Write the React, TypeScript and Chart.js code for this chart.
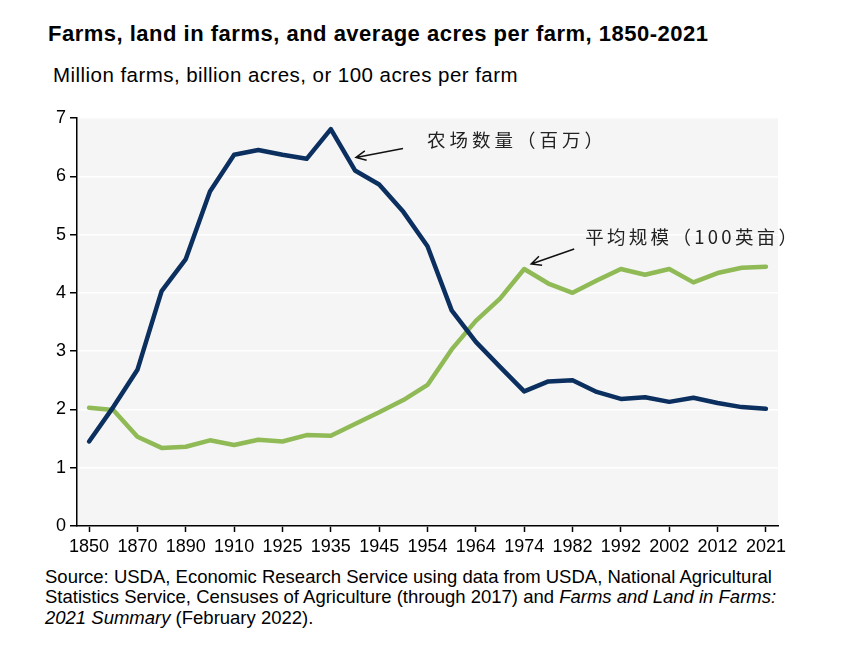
import React, { useEffect, useRef } from "react";
import { Chart, registerables } from "chart.js";

Chart.register(...registerables);

const years = [
  "1850", "1860", "1870", "1880", "1890", "1900", "1910", "1920", "1925", "1930",
  "1935", "1940", "1945", "1950", "1954", "1959", "1964", "1969", "1974", "1978",
  "1982", "1987", "1992", "1997", "2002", "2007", "2012", "2017", "2021",
];

const farmsMillions = [
  1.45, 2.04, 2.68, 4.03, 4.58, 5.74, 6.37, 6.45, 6.37, 6.30,
  6.81, 6.10, 5.86, 5.39, 4.80, 3.70, 3.16, 2.73, 2.31, 2.48,
  2.50, 2.30, 2.18, 2.21, 2.13, 2.20, 2.11, 2.04, 2.01,
];

const avgSize100Acres = [
  2.03, 1.99, 1.53, 1.34, 1.36, 1.47, 1.39, 1.48, 1.45, 1.56,
  1.55, 1.75, 1.95, 2.16, 2.42, 3.03, 3.52, 3.90, 4.41, 4.16,
  4.00, 4.21, 4.41, 4.31, 4.41, 4.18, 4.34, 4.43, 4.45,
];

const labelFarms = "农场数量（百万）";
const labelSize = "平均规模（100英亩）";

const NAVY = "#0b2f5f";
const GREEN = "#8fba55";

function drawArrow(ctx: CanvasRenderingContext2D, x1: number, y1: number, x2: number, y2: number) {
  const ang = Math.atan2(y2 - y1, x2 - x1);
  const len = 11;
  ctx.save();
  ctx.strokeStyle = "#111";
  ctx.lineWidth = 1.5;
  ctx.beginPath();
  ctx.moveTo(x1, y1);
  ctx.lineTo(x2, y2);
  ctx.moveTo(x2 - len * Math.cos(ang - 0.45), y2 - len * Math.sin(ang - 0.45));
  ctx.lineTo(x2, y2);
  ctx.lineTo(x2 - len * Math.cos(ang + 0.45), y2 - len * Math.sin(ang + 0.45));
  ctx.stroke();
  ctx.restore();
}

const bgPlugin = {
  id: "bgPlugin",
  beforeDraw(chart: any) {
    const { ctx, chartArea } = chart;
    ctx.save();
    ctx.fillStyle = "#f5f5f5";
    ctx.fillRect(chartArea.left, chartArea.top, chartArea.right - chartArea.left, chartArea.bottom - chartArea.top);
    ctx.restore();
  },
};

const annotationPlugin = {
  id: "annotationPlugin",
  afterDatasetsDraw(chart: any) {
    const { ctx } = chart;
    const xs = chart.scales.x;
    const ys = chart.scales.y;
    const fx = xs.getPixelForValue(11);
    const fy = ys.getPixelForValue(farmsMillions[11]);
    const tip1x = fx + 1;
    const tip1y = fy - 13;
    drawArrow(ctx, tip1x + 47, tip1y - 9, tip1x, tip1y);
    const sx = xs.getPixelForValue(18);
    const sy = ys.getPixelForValue(avgSize100Acres[18]);
    const tip2x = sx + 7;
    const tip2y = sy - 5;
    drawArrow(ctx, tip2x + 43, tip2y - 15, tip2x, tip2y);

    ctx.save();
    ctx.fillStyle = "#222";
    ctx.font = '18.5px "Noto Sans CJK SC"';
    ctx.textBaseline = "middle";
    ctx.textAlign = "left";
    (ctx as any).letterSpacing = "4px";
    ctx.fillText(labelFarms, tip1x + 71, tip1y - 17);
    (ctx as any).letterSpacing = "3.3px";
    ctx.fillText(labelSize, tip2x + 54, tip2y - 27);
    ctx.restore();
  },
};

export default function App() {
  const canvasRef = useRef<HTMLCanvasElement | null>(null);

  useEffect(() => {
    if (!canvasRef.current) return;
    const chart = new Chart(canvasRef.current, {
      type: "line",
      data: {
        labels: years,
        datasets: [
          {
            label: labelFarms,
            data: farmsMillions,
            borderColor: NAVY,
            borderWidth: 4.5,
            pointRadius: 0,
            tension: 0,
            borderJoinStyle: "round",
            borderCapStyle: "round",
          },
          {
            label: labelSize,
            data: avgSize100Acres,
            borderColor: GREEN,
            borderWidth: 4.5,
            pointRadius: 0,
            tension: 0,
            borderJoinStyle: "round",
            borderCapStyle: "round",
          },
        ],
      },
      options: {
        responsive: false,
        animation: false,
        devicePixelRatio: 1,
        layout: { padding: { top: 18, right: 22, left: 0, bottom: 0 } },
        plugins: {
          legend: { display: false },
          tooltip: { enabled: false },
        },
        scales: {
          x: {
            offset: true,
            grid: {
              drawOnChartArea: false,
              offset: false,
              tickLength: 6,
              tickColor: "#000",
              tickWidth: 1.5,
            },
            border: { color: "#000", width: 1.5 },
            ticks: {
              autoSkip: false,
              maxRotation: 0,
              padding: 4,
              color: "#000",
              font: { family: "Arial, 'Liberation Sans'", size: 18 },
              callback: (_v: any, i: number) => (i % 2 === 0 ? years[i] : null),
            },
            afterFit: (s: any) => {
              s.height = 40;
            },
          },
          y: {
            min: 0,
            max: 7,
            grid: {
              color: "#ffffff",
              lineWidth: 1.5,
              tickLength: 7,
              tickColor: "#000",
              tickWidth: 1.5,
            },
            border: { color: "#000", width: 1.5 },
            ticks: {
              stepSize: 1,
              padding: 4,
              color: "#000",
              font: { family: "Arial, 'Liberation Sans'", size: 18 },
            },
            afterFit: (s: any) => {
              s.width = 77;
            },
          },
        },
      },
      plugins: [bgPlugin, annotationPlugin],
    });
    return () => chart.destroy();
  }, []);

  return (
    <div style={{ position: "absolute", left: 0, top: 0, width: 850, height: 650, background: "#fff", fontFamily: "Arial, 'Liberation Sans', sans-serif", color: "#000" }}>
      <div style={{ position: "absolute", left: 48, top: 23, fontSize: 22, lineHeight: "22px", letterSpacing: "0.5px", fontWeight: "bold", whiteSpace: "nowrap" }}>
        Farms, land in farms, and average acres per farm, 1850-2021
      </div>
      <div style={{ position: "absolute", left: 53, top: 64.5, fontSize: 20.5, lineHeight: "20px", letterSpacing: "0.45px", whiteSpace: "nowrap" }}>
        Million farms, billion acres, or 100 acres per farm
      </div>
      <canvas ref={canvasRef} width={800} height={466} style={{ position: "absolute", left: 0, top: 100, width: 800, height: 466 }} />
      <div style={{ position: "absolute", left: 45, top: 566.5, fontSize: 18.5, lineHeight: "20.5px", whiteSpace: "nowrap" }}>
        <div>Source: USDA, Economic Research Service using data from USDA, National Agricultural</div>
        <div>Statistics Service, Censuses of Agriculture (through 2017) and <i>Farms and Land in Farms:</i></div>
        <div><i>2021 Summary</i> (February 2022).</div>
      </div>
    </div>
  );
}
